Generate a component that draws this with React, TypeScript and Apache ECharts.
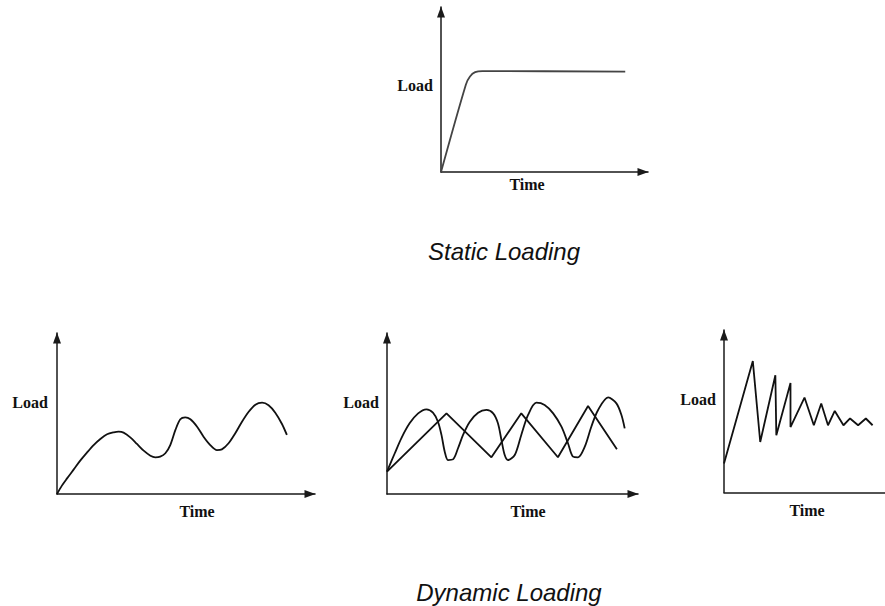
import React, { useEffect, useRef } from "react";
import * as echarts from "echarts";

// Static loading: ramp then constant load
const staticLoad: number[][] = [
  [0, 0], [1.2, 5.4], [1.4, 5.9], [1.65, 6.17], [2.0, 6.24], [8.9, 6.2],
];

// Dynamic loading 1: irregular wave
const dynWave: number[][] = [
  [0, 0], [0.19, 0.52], [0.39, 0.97], [0.65, 1.53], [0.9, 2.07], [1.16, 2.57],
  [1.42, 3.04], [1.68, 3.42], [1.94, 3.71], [2.2, 3.83], [2.39, 3.87], [2.58, 3.81],
  [2.84, 3.52], [3.1, 3.11], [3.36, 2.69], [3.62, 2.38], [3.81, 2.28], [4.0, 2.32],
  [4.2, 2.53], [4.39, 3.04], [4.59, 3.98], [4.78, 4.64], [4.97, 4.76], [5.17, 4.64],
  [5.43, 4.18], [5.68, 3.56], [5.94, 3.04], [6.2, 2.73], [6.39, 2.77], [6.65, 3.15],
  [6.91, 3.77], [7.17, 4.49], [7.43, 5.11], [7.69, 5.55], [7.95, 5.67], [8.2, 5.51],
  [8.46, 5.05], [8.72, 4.35], [8.91, 3.67],
];

// Dynamic loading 2: triangular cycles
const dynTriangle: number[][] = [
  [0, 1.39], [2.37, 5.01], [4.16, 2.28], [5.35, 5.01], [6.81, 2.28], [8.01, 5.47], [9.16, 2.78],
];

// Dynamic loading 2: oscillating cycles
const dynOsc: number[][] = [
  [0, 1.39], [0.31, 2.53], [0.57, 3.46], [0.9, 4.39], [1.24, 5.01], [1.57, 5.26],
  [1.83, 5.05], [2.03, 4.49], [2.17, 3.67], [2.3, 2.63], [2.43, 2.11], [2.63, 2.15],
  [2.83, 2.84], [3.03, 3.67], [3.3, 4.49], [3.63, 5.05], [3.96, 5.22], [4.23, 5.01],
  [4.42, 4.39], [4.56, 3.35], [4.69, 2.42], [4.82, 2.11], [5.09, 2.42], [5.35, 3.67],
  [5.62, 4.91], [5.95, 5.67], [6.28, 5.53], [6.62, 5.01], [6.95, 4.18], [7.21, 3.15],
  [7.41, 2.32], [7.61, 2.28], [7.88, 2.94], [8.14, 4.18], [8.41, 5.22], [8.81, 6.0],
  [9.14, 5.63], [9.34, 4.91], [9.47, 4.08],
];

// Dynamic loading 3: decaying impact
const dynDecay: number[][] = [
  [0, 1.8], [1.79, 8.17], [2.25, 3.14], [3.19, 7.29], [3.25, 3.56], [4.13, 6.81],
  [4.13, 4.07], [5.0, 5.9], [5.58, 4.18], [6.04, 5.53], [6.46, 4.18], [6.88, 5.07],
  [7.42, 4.18], [7.83, 4.6], [8.33, 4.18], [8.81, 4.6], [9.23, 4.18],
];

const yLabel = "Load";
const xLabel = "Time";
const captions = ["Static Loading", "Dynamic Loading"];

const xMax = [10, 10, 10, 10];
const yMax = [10.2, 10, 10, 10.1];

export default function App() {
  const ref = useRef<HTMLDivElement>(null);
  useEffect(() => {
    if (!ref.current) return;
    const chart = echarts.init(ref.current, undefined, { renderer: "svg" });
    const grids = [
      { left: 441, top: 7, width: 207, height: 165 },
      { left: 57, top: 333, width: 258, height: 161 },
      { left: 387, top: 333, width: 251, height: 161 },
      { left: 724, top: 330, width: 161, height: 162.5 },
    ];
    const axisColor = "#1a1a1a";
    const mkAxis = (i: number, isX: boolean) => ({
      type: "value",
      gridIndex: i,
      min: 0,
      max: isX ? xMax[i] : yMax[i],
      axisLine: {
        show: true,
        symbol: isX && i === 3 ? ["none", "none"] : ["none", "triangle"],
        symbolSize: [8, 11],
        symbolOffset: [0, -5],
        lineStyle: { color: axisColor, width: 1.5 },
      },
      axisTick: { show: false },
      axisLabel: { show: false },
      splitLine: { show: false },
    });
    const lineSeries = (data: number[][], idx: number, smooth: number | boolean, color = "#111") => ({
      type: "line",
      xAxisIndex: idx,
      yAxisIndex: idx,
      data,
      smooth,
      showSymbol: false,
      symbol: "none",
      lineStyle: { color, width: 1.8 },
    });
    const labelStyle = {
      fill: "#111",
      fontFamily: "Liberation Serif",
      fontWeight: "bold",
      fontSize: 16,
      align: "center",
      verticalAlign: "middle",
    };
    const capStyle = {
      fill: "#111",
      fontFamily: "Liberation Sans",
      fontStyle: "italic",
      fontSize: 24,
      align: "center",
      verticalAlign: "middle",
    };
    const labelPos = [
      { load: [415, 85], time: [527, 184] },
      { load: [30, 402], time: [197, 511] },
      { load: [361, 402], time: [528, 511] },
      { load: [698, 399], time: [807, 510] },
    ];
    const graphic: any[] = [];
    labelPos.forEach((p) => {
      graphic.push({ type: "text", x: p.load[0], y: p.load[1], style: { ...labelStyle, text: yLabel } });
      graphic.push({ type: "text", x: p.time[0], y: p.time[1], style: { ...labelStyle, text: xLabel } });
    });
    graphic.push({ type: "text", x: 504, y: 251, style: { ...capStyle, text: captions[0] } });
    graphic.push({ type: "text", x: 509, y: 592, style: { ...capStyle, text: captions[1] } });

    chart.setOption({
      animation: false,
      backgroundColor: "#ffffff",
      grid: grids,
      xAxis: grids.map((_, i) => mkAxis(i, true)),
      yAxis: grids.map((_, i) => mkAxis(i, false)),
      series: [
        lineSeries(staticLoad, 0, 0.3, "#444"),
        lineSeries(dynWave, 1, 0.3),
        lineSeries(dynTriangle, 2, false),
        lineSeries(dynOsc, 2, 0.3),
        lineSeries(dynDecay, 3, false),
      ],
      graphic,
    });
    return () => chart.dispose();
  }, []);
  return (
    <div
      ref={ref}
      style={{ position: "absolute", left: 0, top: 0, width: 885, height: 606 }}
    />
  );
}
